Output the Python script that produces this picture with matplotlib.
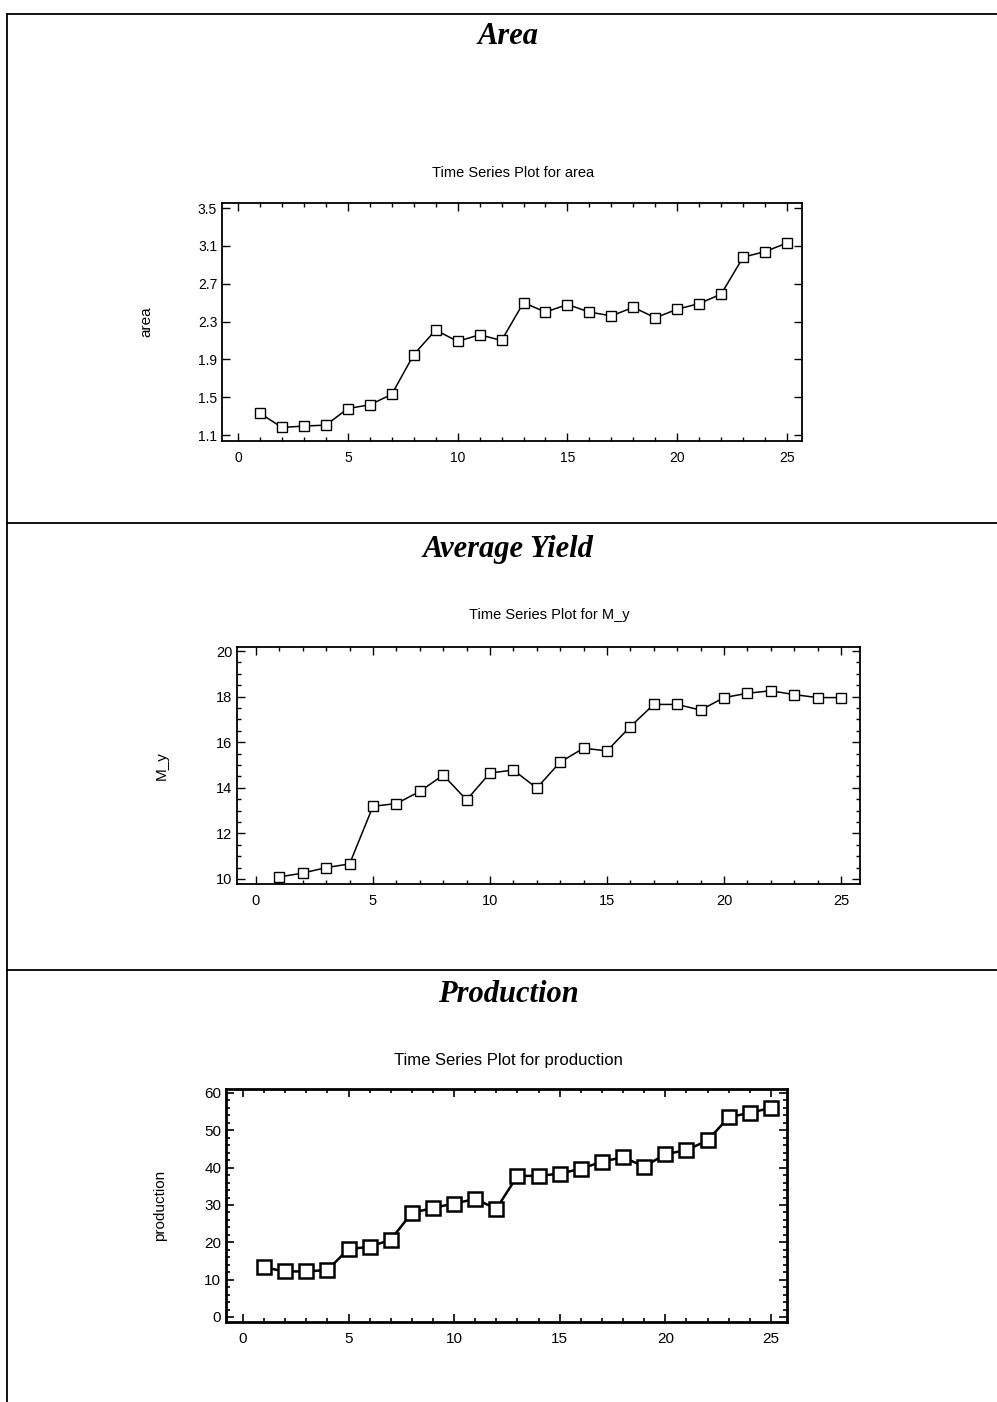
import numpy as np
import matplotlib
matplotlib.use("Agg")
import matplotlib.pyplot as plt
from matplotlib.lines import Line2D
from matplotlib.ticker import MultipleLocator

W, H = 997, 1402

# ------------------------------------------------------------------
# Dados
# ------------------------------------------------------------------
t = list(range(1, 26))

area = [1.33, 1.18, 1.195, 1.205, 1.38, 1.42, 1.53, 1.95, 2.21, 2.09,
        2.16, 2.10, 2.50, 2.40, 2.48, 2.40, 2.36, 2.45, 2.34, 2.43,
        2.49, 2.59, 2.98, 3.04, 3.13]

m_y = [10.09, 10.26, 10.50, 10.66, 13.19, 13.31, 13.84, 14.56, 13.47, 14.65,
       14.78, 13.99, 15.13, 15.74, 15.62, 16.69, 17.66, 17.66, 17.41, 17.96,
       18.15, 18.26, 18.09, 17.96, 17.96]

production = [13.3, 12.2, 12.2, 12.6, 18.2, 18.8, 20.7, 27.9, 29.2, 30.4,
              31.6, 29.0, 37.8, 37.8, 38.4, 39.7, 41.6, 42.8, 40.3, 43.6,
              44.7, 47.3, 53.5, 54.7, 56.0]

section_titles = ["Area", "Average Yield", "Production"]
plot_titles = ["Time Series Plot for area", "Time Series Plot for M_y",
               "Time Series Plot for production"]
ylabels = ["area", "M_y", "production"]
yticks_area = [1.1, 1.5, 1.9, 2.3, 2.7, 3.1, 3.5]
yticks_my = [10, 12, 14, 16, 18, 20]
yticks_prod = [0, 10, 20, 30, 40, 50, 60]
xticks = [0, 5, 10, 15, 20, 25]

plt.rcParams['font.family'] = ['Liberation Sans', 'DejaVu Sans']

fig = plt.figure(figsize=(W / 100, H / 100), dpi=100)


def px_axes(left, top, right, bottom):
    return fig.add_axes([left / W, 1 - bottom / H, (right - left) / W, (bottom - top) / H])


def fig_line(x0, y0, x1, y1, lw=1.3):
    fig.add_artist(Line2D([x0 / W, x1 / W], [1 - y0 / H, 1 - y1 / H],
                          transform=fig.transFigure, color='black', lw=lw))


# moldura da página
fig_line(7, 14, 997, 14)
fig_line(7, 14, 7, 1402)
fig_line(7, 523, 997, 523)
fig_line(7, 970, 997, 970)

# títulos das seções
for title, y in zip(section_titles, [37, 549, 995]):
    fig.text(508 / W, 1 - y / H, title, ha='center', va='center',
             family='Liberation Serif', style='italic', weight='bold', fontsize=22)

configs = [
    dict(box=(222, 203, 802, 441), xlim=(-0.73, 25.68), ylim=(1.037, 3.553),
         yticks=yticks_area, ydata=area, ymin=None, title_y=173, title_x=513,
         ylab_x=146, lw=1.1, ms=6.5, mew=1.0, fs=10, tfs=10.5, lfs=11,
         ylab_fmt='%.1f'),
    dict(box=(237, 647, 860, 884), xlim=(-0.81, 25.81), ylim=(9.78, 20.18),
         yticks=yticks_my, ydata=m_y, ymin=0.5, title_y=615, title_x=549,
         ylab_x=162, lw=1.1, ms=6.5, mew=1.0, fs=10.5, tfs=10.5, lfs=11,
         ylab_fmt='%d'),
    dict(box=(226, 1089, 787, 1322), xlim=(-0.8, 25.76), ylim=(-1.34, 61.07),
         yticks=yticks_prod, ydata=production, ymin=2, title_y=1060, title_x=508,
         ylab_x=160, lw=1.8, ms=10, mew=1.8, fs=11, tfs=12, lfs=11,
         ylab_fmt='%d'),
]

for i, cfg in enumerate(configs):
    ax = px_axes(*cfg['box'])
    ax.plot(t, cfg['ydata'], color='black', lw=cfg['lw'], marker='s',
            ms=cfg['ms'], mfc='white', mec='black', mew=cfg['mew'])
    ax.set_xlim(*cfg['xlim'])
    ax.set_ylim(*cfg['ylim'])
    ax.set_xticks(xticks)
    ax.set_yticks(cfg['yticks'])
    ax.set_yticklabels([cfg['ylab_fmt'] % v for v in cfg['yticks']])
    ax.xaxis.set_minor_locator(MultipleLocator(1))
    if cfg['ymin']:
        ax.yaxis.set_minor_locator(MultipleLocator(cfg['ymin']))
    spine_w = 2.0 if i == 2 else 1.3
    for s in ax.spines.values():
        s.set_linewidth(spine_w)
    ax.tick_params(which='both', direction='in', top=True, right=True,
                   labelsize=cfg['fs'], width=1.2 if i == 2 else 1.0)
    ax.tick_params(which='major', length=6)
    ax.tick_params(which='minor', length=3)
    ax.tick_params(axis='x', which='major', pad=7)

    box = cfg['box']
    mid = (box[1] + box[3]) / 2
    fig.text(cfg['title_x'] / W, 1 - cfg['title_y'] / H, plot_titles[i],
             ha='center', va='center', fontsize=cfg['tfs'])
    fig.text(cfg['ylab_x'] / W, 1 - mid / H, ylabels[i], rotation=90,
             ha='center', va='center', fontsize=cfg['lfs'])

fig.savefig("out.png", dpi=100)
plt.close(fig)
